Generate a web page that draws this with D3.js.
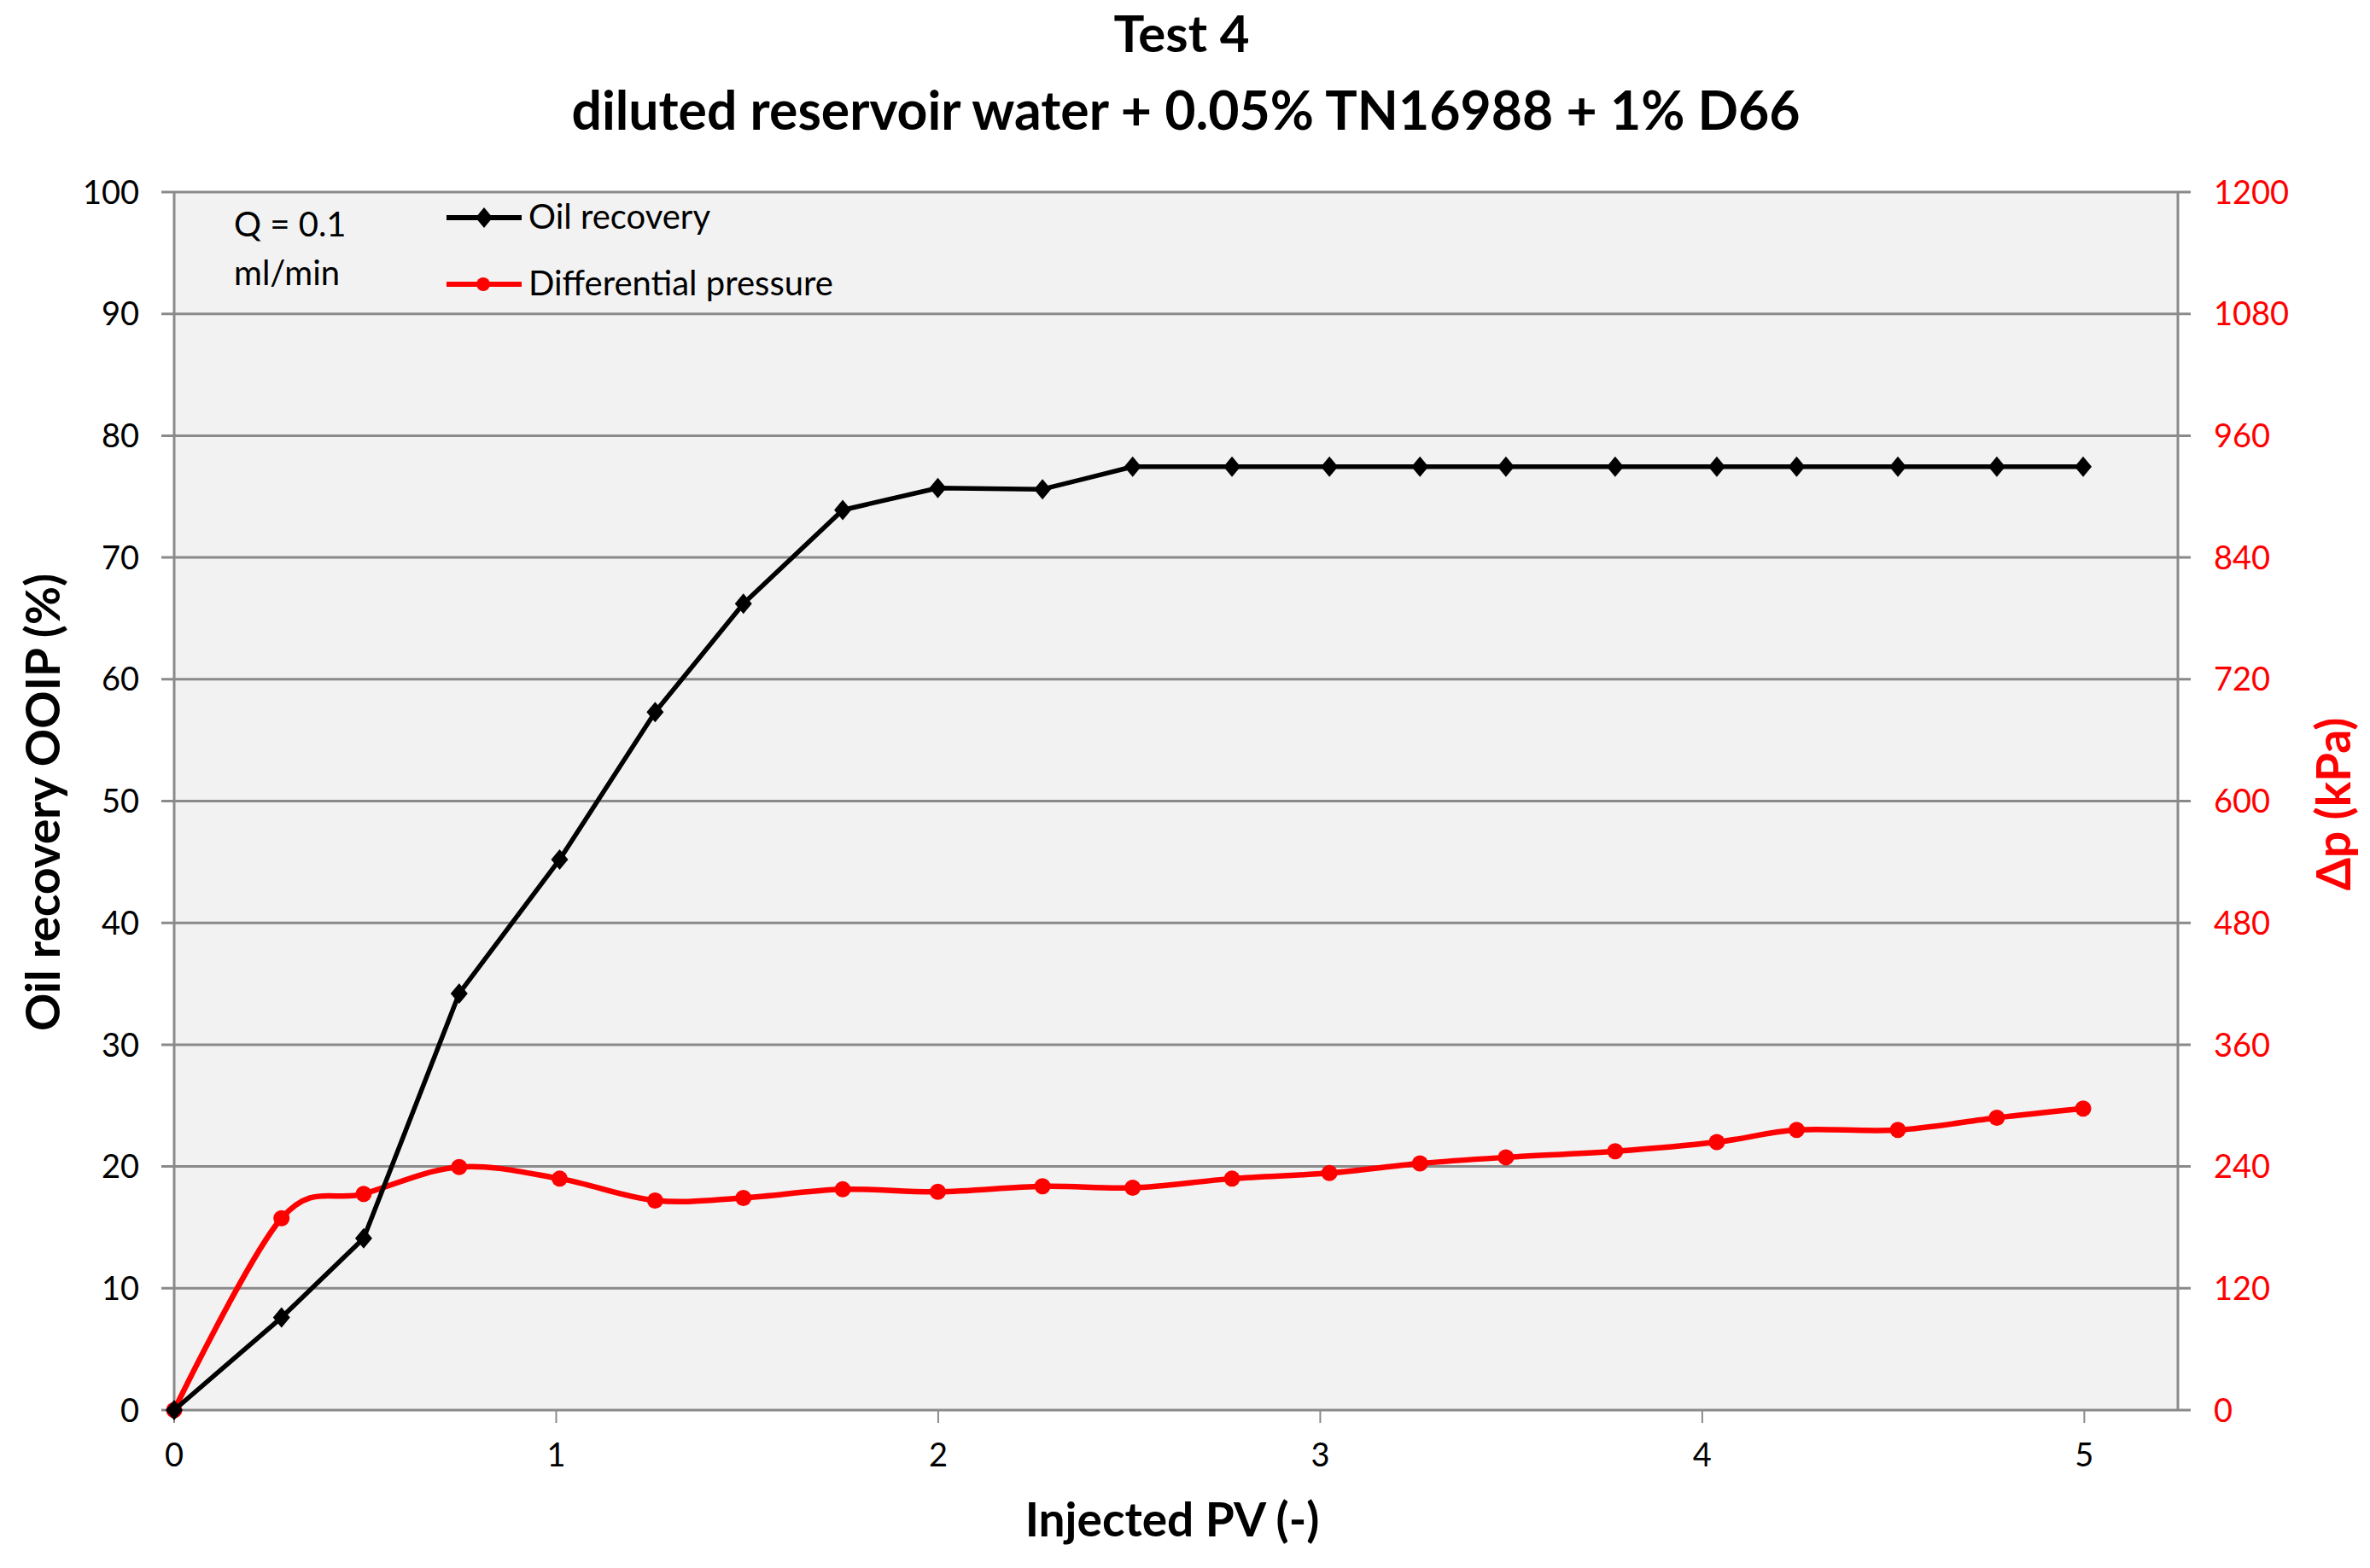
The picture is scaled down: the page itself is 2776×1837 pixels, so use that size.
<!DOCTYPE html>
<html>
<head>
<meta charset="utf-8">
<script src="https://cdn.jsdelivr.net/npm/d3@7"></script>
<style>
  body { margin: 0; background: #fff; }
  text { font-family: Lato, "Open Sans", sans-serif; }
</style>
</head>
<body>
<div id="chart"></div>
<script>
// injected pore volumes, shared by both series
const injectedPV = [0, 0.281, 0.496, 0.746, 1.009, 1.259, 1.49, 1.75, 1.999, 2.273, 2.509,
  2.769, 3.024, 3.261, 3.486, 3.772, 4.038, 4.247, 4.512, 4.771, 4.997];
const oilRecovery = [0, 7.6, 14.1, 34.2, 45.2, 57.3, 66.2, 73.9, 75.7, 75.6, 77.45,
  77.45, 77.45, 77.45, 77.45, 77.45, 77.45, 77.45, 77.45, 77.45, 77.45];
const diffPressure = [0, 189, 213, 239.5, 228, 206.5, 209, 217.5, 215, 220.5, 219,
  228, 233.5, 243, 249, 255, 264, 276, 276, 288, 297];

const xTicks = [0, 1, 2, 3, 4, 5];
const xMax = 5.245;
const leftTicks = d3.range(0, 101, 10);
const rightTicks = d3.range(0, 1201, 120);

const titleText = "Test 4";
const subtitleText = "diluted reservoir water + 0.05% TN16988 + 1% D66";
const seriesNames = ["Oil recovery", "Differential pressure"];

const W = 2776, H = 1837;
const margin = { top: 225, right: W - 2551, bottom: H - 1652, left: 204 };
const width = W - margin.left - margin.right;
const height = H - margin.top - margin.bottom;
const gridColor = "#8a8a8a";
const red = "#ff0000";

const svg = d3.select("#chart").append("svg")
  .attr("width", W)
  .attr("height", H);

const g = svg.append("g")
  .attr("transform", `translate(${margin.left},${margin.top})`);

const x = d3.scaleLinear().domain([0, xMax]).range([0, width]);
const yL = d3.scaleLinear().domain([0, 100]).range([height, 0]);
const yR = d3.scaleLinear().domain([0, 1200]).range([height, 0]);

// plot area
g.append("rect")
  .attr("width", width)
  .attr("height", height)
  .attr("fill", "#f2f2f2");

// horizontal gridlines, sticking out a bit on both sides like tick marks
g.selectAll(".grid")
  .data(leftTicks)
  .join("line")
  .attr("x1", -15)
  .attr("x2", width + 15)
  .attr("y1", d => yL(d))
  .attr("y2", d => yL(d))
  .attr("stroke", gridColor)
  .attr("stroke-width", 3);

// vertical axis lines
[0, width].forEach(px => {
  g.append("line")
    .attr("x1", px).attr("x2", px)
    .attr("y1", 0).attr("y2", height)
    .attr("stroke", gridColor)
    .attr("stroke-width", 3);
});

// x ticks + labels
const xAxis = g.append("g").attr("transform", `translate(0,${height})`);
xAxis.selectAll("line")
  .data(xTicks)
  .join("line")
  .attr("x1", d => x(d)).attr("x2", d => x(d))
  .attr("y1", 0).attr("y2", 15)
  .attr("stroke", gridColor)
  .attr("stroke-width", 2);
xAxis.selectAll("text")
  .data(xTicks)
  .join("text")
  .attr("x", d => x(d))
  .attr("y", 66)
  .attr("text-anchor", "middle")
  .style("font-size", "38px")
  .text(d => d);

// left labels
g.selectAll(".ylab")
  .data(leftTicks)
  .join("text")
  .attr("x", -41)
  .attr("y", d => yL(d))
  .attr("dy", "0.36em")
  .attr("text-anchor", "end")
  .style("font-size", "38px")
  .text(d => d);

// right labels
g.selectAll(".yrlab")
  .data(rightTicks)
  .join("text")
  .attr("x", width + 42)
  .attr("y", d => yR(d))
  .attr("dy", "0.36em")
  .attr("text-anchor", "start")
  .attr("fill", red)
  .style("font-size", "38px")
  .text(d => d);

// series
const diamond = (cx, cy) => `M${cx},${cy - 12}L${cx + 10},${cy}L${cx},${cy + 12}L${cx - 10},${cy}Z`;

const oilData = injectedPV.map((v, i) => [v, oilRecovery[i]]);
const dpData = injectedPV.map((v, i) => [v, diffPressure[i]]);

g.append("path")
  .datum(dpData)
  .attr("fill", "none")
  .attr("stroke", red)
  .attr("stroke-width", 6.5)
  .attr("stroke-linejoin", "round")
  .attr("d", d3.line().x(d => x(d[0])).y(d => yR(d[1])).curve(d3.curveCatmullRom.alpha(0)));

g.selectAll(".dp")
  .data(dpData)
  .join("circle")
  .attr("cx", d => x(d[0]))
  .attr("cy", d => yR(d[1]))
  .attr("r", 9.5)
  .attr("fill", red);

g.append("path")
  .datum(oilData)
  .attr("fill", "none")
  .attr("stroke", "#000")
  .attr("stroke-width", 5.5)
  .attr("stroke-linejoin", "round")
  .attr("d", d3.line().x(d => x(d[0])).y(d => yL(d[1])));

g.selectAll(".oil")
  .data(oilData)
  .join("path")
  .attr("d", d => diamond(x(d[0]), yL(d[1])))
  .attr("fill", "#000");

// legend
const legend = svg.append("g");
[0, 1].forEach(i => {
  const ly = i === 0 ? 255 : 333;
  const color = i === 0 ? "#000" : red;
  legend.append("line")
    .attr("x1", 523).attr("x2", 611)
    .attr("y1", ly).attr("y2", ly)
    .attr("stroke", color)
    .attr("stroke-width", 6);
  if (i === 0) {
    legend.append("path").attr("d", diamond(567, ly)).attr("fill", color);
  } else {
    legend.append("circle").attr("cx", 566).attr("cy", ly).attr("r", 8).attr("fill", color);
  }
  legend.append("text")
    .attr("x", 619)
    .attr("y", ly + 13)
    .style("font-size", "40px")
    .text(seriesNames[i]);
});

svg.append("text")
  .attr("x", 274).attr("y", 277)
  .style("font-size", "40px")
  .text("Q = 0.1");
svg.append("text")
  .attr("x", 274).attr("y", 334)
  .style("font-size", "40px")
  .text("ml/min");

// titles
svg.append("text")
  .attr("x", 1384).attr("y", 61)
  .attr("text-anchor", "middle")
  .style("font-size", "60px")
  .style("font-weight", "bold")
  .text(titleText);
svg.append("text")
  .attr("x", 1389).attr("y", 152)
  .attr("text-anchor", "middle")
  .style("font-size", "62.5px")
  .style("font-weight", "bold")
  .text(subtitleText);

svg.append("text")
  .attr("x", 1373).attr("y", 1800)
  .attr("text-anchor", "middle")
  .style("font-size", "55px")
  .style("font-weight", "bold")
  .text("Injected PV (-)");

svg.append("text")
  .attr("transform", "translate(70,940) rotate(-90)")
  .attr("text-anchor", "middle")
  .style("font-size", "55px")
  .style("font-weight", "bold")
  .text("Oil recovery OOIP (%)");

svg.append("text")
  .attr("transform", "translate(2753,942) rotate(-90)")
  .attr("text-anchor", "middle")
  .attr("fill", red)
  .style("font-size", "55px")
  .style("font-weight", "bold")
  .text("Δp (kPa)");
</script>
</body>
</html>
